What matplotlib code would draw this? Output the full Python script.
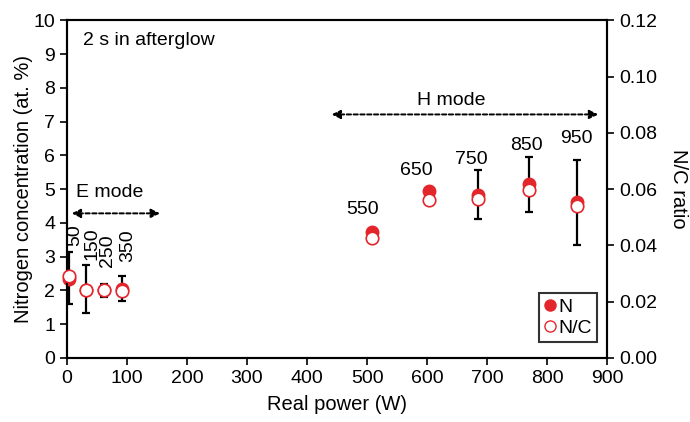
import numpy as np
import matplotlib.pyplot as plt
from matplotlib.lines import Line2D

plt.rcParams['font.family'] = ['Liberation Sans', 'DejaVu Sans']

# real power (W) and nominal power labels
power = [4, 32, 62, 92, 508, 603, 685, 770, 850]
nominal = ['50', '150', '250', '350', '550', '650', '750', '850', '950']

# nitrogen concentration (at. %) with error range
n_conc = [2.33, 2.0, 2.0, 2.05, 3.74, 4.94, 4.82, 5.14, 4.62]
n_low = [1.6, 1.32, 1.81, 1.67, np.nan, np.nan, 4.11, 4.33, 3.34]
n_high = [3.15, 2.75, 2.2, 2.43, np.nan, np.nan, 5.56, 5.96, 5.86]

# N/C ratio
nc_ratio = [0.0292, 0.0240, 0.0240, 0.0238, 0.0425, 0.0560, 0.0564, 0.0596, 0.0540]

red = '#e3262c'
fs = 14

fig = plt.figure(figsize=(6.9, 4.22), dpi=100)
ax = fig.add_axes([0.097, 0.152, 0.783, 0.800])
ax2 = ax.twinx()

n_conc = np.array(n_conc)
lo = n_conc - np.array(n_low)
hi = np.array(n_high) - n_conc
has_err = ~np.isnan(lo)
ax.errorbar(np.array(power)[has_err], n_conc[has_err],
            yerr=[lo[has_err], hi[has_err]], fmt='none', ecolor='black',
            elinewidth=1.6, capsize=3, capthick=1.6, zorder=2)
ax.plot(power, n_conc, 'o', color=red, markersize=9, zorder=3, clip_on=False)

ax2.plot(power, nc_ratio, 'o', markerfacecolor='white', markeredgecolor=red,
         markeredgewidth=1.2, markersize=9, zorder=4, clip_on=False)

ax.set_xlim(0, 900)
ax.set_ylim(0, 10)
ax2.set_ylim(0, 0.12)
ax.set_xticks(range(0, 901, 100))
ax.set_yticks(range(0, 11))
ax2.set_yticks(np.arange(0, 0.121, 0.02))
ax2.set_yticklabels([f'{v:.2f}' for v in np.arange(0, 0.121, 0.02)])

for a in (ax, ax2):
    a.tick_params(direction='out', length=5, width=1.2, labelsize=fs, colors='black')
    for s in a.spines.values():
        s.set_linewidth(1.5)

ax.set_xlabel('Real power (W)', fontsize=14.5, labelpad=6)
ax.set_ylabel('Nitrogen concentration (at. %)', fontsize=14.5, labelpad=0.5)
ax2.set_ylabel('N/C ratio', fontsize=14.5, rotation=270, labelpad=22)

# nominal power labels
e_lab_pos = [(13, 3.3), (42, 2.9), (68, 2.7), (101, 2.85)]
for (x, y), t in zip(e_lab_pos, nominal[:4]):
    ax.text(x, y, t, rotation=90, ha='center', va='bottom', fontsize=fs)
h_lab_pos = [(492, 4.38), (582, 5.56), (674, 5.88), (766, 6.3), (848, 6.5)]
for (x, y), t in zip(h_lab_pos, nominal[4:]):
    ax.text(x, y, t, ha='center', va='center', fontsize=fs)

# mode arrows
arrow = dict(arrowstyle='<|-|>', linestyle=(0, (2.2, 1.3)), color='black',
             lw=1.4, mutation_scale=13, shrinkA=0, shrinkB=0)
ax.annotate('', xy=(8, 4.28), xytext=(155, 4.28), arrowprops=arrow)
ax.text(72, 4.9, 'E mode', ha='center', va='center', fontsize=fs)
ax.annotate('', xy=(441, 7.21), xytext=(885, 7.21), arrowprops=arrow)
ax.text(641, 7.61, 'H mode', ha='center', va='center', fontsize=fs)

ax.text(26, 9.39, '2 s in afterglow', ha='left', va='center', fontsize=fs)

# legend
handles = [Line2D([], [], marker='o', linestyle='none', color=red, markersize=8),
           Line2D([], [], marker='o', linestyle='none', markerfacecolor='white',
                  markeredgecolor=red, markersize=8)]
leg = ax2.legend(handles, ['N', 'N/C'], loc='lower right', fontsize=fs,
                 bbox_to_anchor=(0.9815, 0.047), borderaxespad=0,
                 frameon=True, fancybox=False, handlelength=0.6, handletextpad=0.15,
                 borderpad=0.25, labelspacing=0.2)
leg.get_frame().set_edgecolor('black')
leg.get_frame().set_linewidth(1.5)

fig.savefig('out.png', dpi=100)
